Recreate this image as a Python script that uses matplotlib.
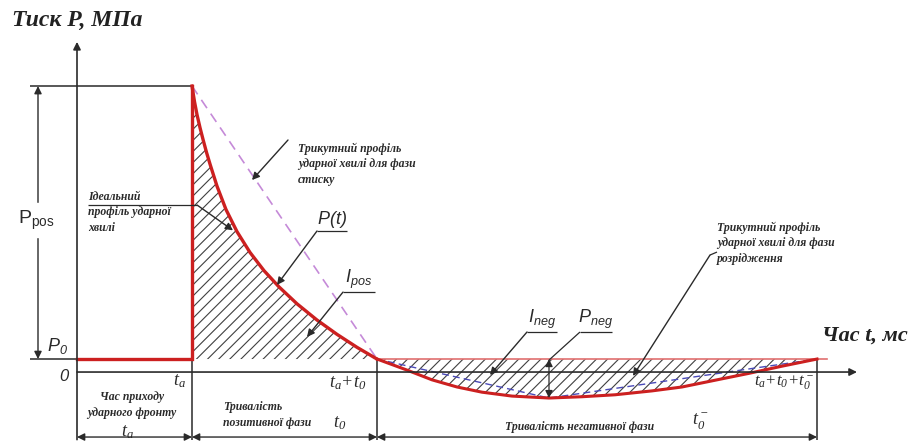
import matplotlib
matplotlib.use("Agg")
import matplotlib.pyplot as plt

# key times (ms) and pressures (MPa) of the blast wave profile
t_a = 2.3        # arrival time of the shock front
t_pos = 3.7      # duration of positive phase
t_neg = 8.8      # duration of negative phase
P0 = 0.1         # ambient pressure
P_pos = 2.1      # peak overpressure
P_neg = 0.3      # peak underpressure
t_min = 9.44     # time of underpressure peak

# positive phase P(t)
pos_t = [2.3, 2.35, 2.4, 2.46, 2.52, 2.59, 2.66, 2.8, 2.98, 3.2, 3.46, 3.74, 4.04, 4.4, 4.8,
         5.2, 5.6, 6.0]
pos_p = [2.2, 2.08, 1.98, 1.88, 1.79, 1.69, 1.60, 1.43, 1.25, 1.08, 0.92, 0.78, 0.655, 0.525,
         0.40, 0.29, 0.19, 0.10]

# negative phase P(t)
neg_t = [6.0, 6.6, 7.1, 7.6, 8.1, 8.7, 9.44, 10.1, 10.76, 11.5, 12.1, 12.8, 13.44, 14.1, 14.8]
neg_p = [0.10, 0.015, -0.06, -0.115, -0.155, -0.185, -0.20, -0.19, -0.175, -0.145, -0.115,
         -0.06, -0.01, 0.045, 0.10]

t1 = t_a + t_pos
t2 = t1 + t_neg
p_peak = P0 + P_pos
p_low = P0 - P_neg

RED = "#cc2020"
INK = "#2a2a2a"
SERIF = "Liberation Serif"
SANS = "Liberation Sans"

plt.rcParams["hatch.linewidth"] = 0.8

fig = plt.figure(figsize=(9.14, 4.46), dpi=100)
ax = fig.add_axes([0, 0, 1, 1])
ax.set_xlim(-1.54, 16.74)
ax.set_ylim(-0.569, 2.862)
ax.axis("off")


def arrow(x0, y0, x1, y1, style="-|>", lw=1.0):
    ax.annotate("", xy=(x1, y1), xytext=(x0, y0),
                arrowprops=dict(arrowstyle=style, color=INK, lw=lw,
                                mutation_scale=11, shrinkA=0, shrinkB=0))


def line(xs, ys, **kw):
    kw.setdefault("color", INK)
    kw.setdefault("lw", 1.1)
    ax.plot(xs, ys, solid_capstyle="butt", **kw)


def label(x, y, s, family=SANS, size=12, **kw):
    kw.setdefault("ha", "center")
    kw.setdefault("va", "center")
    ax.text(x, y, r"$\mathregular{%s}$" % s, family=family, style="italic",
            fontsize=size, color=INK, **kw)


# hatched impulse areas
ax.fill_between(pos_t, pos_p, P0, facecolor="none", edgecolor="#404040",
                hatch="///", linewidth=0)
ax.fill_between(neg_t, neg_p, P0, facecolor="none", edgecolor="#404040",
                hatch="///", linewidth=0)

# axes
arrow(0, -0.52, 0, 2.54, lw=1.2)
arrow(0, 0, 15.6, 0, lw=1.2)

# extension and dimension lines
line([-0.94, t_a], [p_peak, p_peak])
line([-0.94, 0], [P0, P0])
line([t_a, t_a], [P0, -0.52])
line([t1, t1], [P0, -0.52])
line([t2, t2], [P0, -0.52])
arrow(-0.78, P0, -0.78, p_peak, style="<|-|>")
arrow(0, -0.5, t_a, -0.5, style="<|-|>")
arrow(t_a, -0.5, t1, -0.5, style="<|-|>")
arrow(t1, -0.5, t2, -0.5, style="<|-|>")
arrow(t_min, P0, t_min, p_low, style="<|-|>", lw=0.9)

# triangular profiles
ax.plot([t_a, t1], [p_peak, P0], color="#c58ad8", lw=1.2, dashes=(6, 4))
ax.plot([t1, t_min, t2], [P0, p_low, P0], color="#4a4ab8", lw=1.0, dashes=(5, 3))

# pressure history
ax.plot([t1, 15.0], [P0, P0], color="#e07070", lw=1.2)
ax.plot([0, t_a, t_a], [P0, P0, p_peak], color=RED, lw=2.4, solid_joinstyle="miter")
ax.plot(pos_t, pos_p, color=RED, lw=2.4)
ax.plot(neg_t, neg_p, color=RED, lw=2.2)

# axis titles
ax.text(-1.3, 2.708, "Тиск Р, МПа", family=SERIF, style="italic", weight="bold",
        fontsize=17, ha="left", va="center", color="#222222")
ax.text(14.9, 0.277, "Час t, мс", family=SERIF, style="italic", weight="bold",
        fontsize=16, ha="left", va="center", color="#222222")

# pressure labels
ax.text(-0.82, 1.17, r"$\mathregular{P_{pos}}$", family=SANS, fontsize=14,
        ha="center", va="center", color=INK, backgroundcolor="white")
label(-0.38, 0.2, "P_0", size=13)
label(-0.24, -0.03, "0", size=12)

# time labels
label(2.06, -0.07, "t_a", family=SERIF, size=13)
label(5.42, -0.08, "t_a{+}t_0", family=SERIF, size=13)
label(14.14, -0.08, "t_a{+}t_0{+}t_0^-", family=SERIF, size=12)

note = dict(family=SERIF, style="italic", weight="bold", fontsize=8.5, color=INK,
            linespacing=1.4)
ax.text(1.1, -0.255, "Час приходу\nударного фронту", ha="center", va="center", **note)
label(1.02, -0.46, "t_a", family=SERIF, size=13)
ax.text(2.92, -0.33, "Тривалість\nпозитивної фази", ha="left", va="center", **note)
label(5.26, -0.39, "t_0", family=SERIF, size=13)
ax.text(10.06, -0.42, "Тривалість негативної фази", ha="center", va="center", **note)
label(12.46, -0.385, "t_0^-", family=SERIF, size=13)

# callouts
ax.text(4.42, 1.6, "Трикутний профіль\nударної хвилі для фази\nстиску",
        ha="left", va="center", **note)
arrow(4.22, 1.785, 3.5, 1.477)

ax.text(0.22, 1.23, "Ідеальний\nпрофіль ударної\nхвилі", ha="left", va="center", **note)
line([0.22, 2.4], [1.285, 1.285], lw=0.9)
arrow(2.4, 1.285, 3.12, 1.09)

label(5.1, 1.095, "P(t)", size=13, va="bottom")
line([4.8, 5.4], [1.085, 1.085], lw=0.9)
arrow(4.8, 1.085, 4.0, 0.67)

label(5.64, 0.625, "I_{pos}", size=13, va="bottom")
line([5.32, 5.96], [0.615, 0.615], lw=0.9)
arrow(5.32, 0.615, 4.6, 0.27)

label(9.3, 0.318, "I_{neg}", size=13, va="bottom")
line([9.0, 9.6], [0.308, 0.308], lw=0.9)
arrow(9.0, 0.308, 8.26, -0.023)

label(10.38, 0.318, "P_{neg}", size=13, va="bottom")
line([10.06, 10.7], [0.308, 0.308], lw=0.9)
line([10.06, 9.44], [0.308, 0.092], lw=0.9)

ax.text(12.8, 0.99, "Трикутний профіль\nударної хвилі для фази\nрозрідження",
        ha="left", va="center", **note)
line([12.8, 12.66], [0.923, 0.9], lw=0.9)
arrow(12.66, 0.9, 11.12, -0.03)

fig.savefig("out.png", dpi=100)
